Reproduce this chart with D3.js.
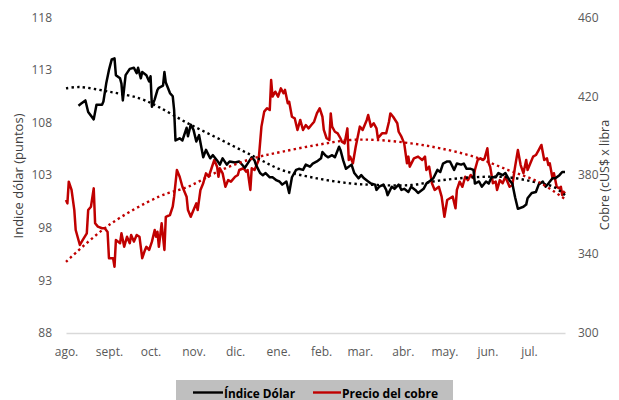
<!DOCTYPE html>
<meta charset="utf-8">
<script src="https://d3js.org/d3.v7.min.js"></script>
<style>
  body { margin: 0; background: #fff; }
  text { font-family: "Open Sans", "Noto Sans", sans-serif; }
</style>
<div id="chart"></div>
<script>

// ---- data ----
const monthLabels = ["ago.", "sept.", "oct.", "nov.", "dic.", "ene.", "feb.", "mar.", "abr.", "may.", "jun.", "jul."];
const leftTicks = [88, 93, 98, 103, 108, 113, 118];
const rightTicks = [300, 340, 380, 420, 460];

const dolarDates = ["2022-08-10","2022-08-12","2022-08-15","2022-08-17","2022-08-21","2022-08-23","2022-08-27","2022-08-28","2022-08-30","2022-09-01",
  "2022-09-03","2022-09-05","2022-09-06","2022-09-09","2022-09-10","2022-09-11","2022-09-13","2022-09-16","2022-09-19","2022-09-21",
  "2022-09-22","2022-09-24","2022-09-25","2022-09-28","2022-09-30","2022-10-01","2022-10-02","2022-10-04","2022-10-06","2022-10-07",
  "2022-10-10","2022-10-11","2022-10-12","2022-10-15","2022-10-17","2022-10-18","2022-10-19","2022-10-22","2022-10-24","2022-10-27",
  "2022-10-28","2022-10-30","2022-11-01","2022-11-03","2022-11-05","2022-11-08","2022-11-10","2022-11-13","2022-11-15","2022-11-18",
  "2022-11-20","2022-11-22","2022-11-25","2022-11-27","2022-12-01","2022-12-04","2022-12-08","2022-12-10","2022-12-13","2022-12-15",
  "2022-12-16","2022-12-19","2022-12-21","2022-12-23","2022-12-26","2022-12-28","2022-12-31","2023-01-02","2023-01-04","2023-01-07",
  "2023-01-09","2023-01-11","2023-01-14","2023-01-16","2023-01-19","2023-01-21","2023-01-24","2023-01-26","2023-01-29","2023-02-01",
  "2023-02-02","2023-02-04","2023-02-06","2023-02-09","2023-02-11","2023-02-14","2023-02-15","2023-02-17","2023-02-19","2023-02-23",
  "2023-02-25","2023-02-28","2023-03-02","2023-03-04","2023-03-07","2023-03-09","2023-03-12","2023-03-13","2023-03-15","2023-03-18",
  "2023-03-20","2023-03-21","2023-03-24","2023-03-26","2023-03-29","2023-03-31","2023-04-02","2023-04-05","2023-04-07","2023-04-10",
  "2023-04-12","2023-04-16","2023-04-18","2023-04-21","2023-04-23","2023-04-26","2023-04-28","2023-04-30","2023-05-03","2023-05-05",
  "2023-05-08","2023-05-10","2023-05-13","2023-05-15","2023-05-17","2023-05-20","2023-05-22","2023-05-23","2023-05-26","2023-05-28",
  "2023-05-31","2023-06-02","2023-06-04","2023-06-07","2023-06-09","2023-06-12","2023-06-14","2023-06-17","2023-06-19","2023-06-21",
  "2023-06-23","2023-06-27","2023-06-29","2023-06-30","2023-07-03","2023-07-06","2023-07-08","2023-07-11","2023-07-13","2023-07-15",
  "2023-07-18","2023-07-20","2023-07-23","2023-07-25","2023-07-27"];
const dolarValues = [109.6,109.8,110.1,109.0,108.3,109.7,109.7,110.0,111.7,113.0,
  114.0,114.1,112.5,112.2,111.7,110.1,112.5,113.1,113.2,112.7,
  113.2,112.2,112.8,112.5,111.9,112.4,109.5,110.2,111.1,111.3,
  111.5,112.8,111.8,110.8,110.5,109.2,106.3,106.5,106.3,107.5,
  106.7,107.8,107.3,106.2,106.8,104.7,105.4,104.6,104.9,104.4,
  104.0,104.6,104.0,104.3,104.2,104.3,103.7,104.1,104.7,104.4,
  104.0,103.2,103.0,103.2,102.8,102.8,102.5,102.4,102.1,102.4,
  101.3,102.8,103.5,103.6,103.5,104.0,103.8,104.1,104.3,104.6,
  105.2,104.9,104.7,104.9,104.7,105.7,105.4,104.4,103.6,104.0,
  103.2,102.7,103.0,102.7,102.4,102.2,102.1,101.6,101.9,102.1,
  101.6,101.1,101.9,101.7,102.1,101.6,101.7,101.4,101.9,101.6,
  101.3,101.7,102.2,102.5,102.7,103.5,103.3,104.1,104.3,104.3,
  103.5,104.1,104.0,104.1,103.6,103.6,103.5,102.2,102.4,101.9,
  102.4,102.2,102.8,102.8,103.2,103.0,103.2,102.5,102.2,100.9,
  99.8,100.0,100.2,100.8,101.3,101.4,102.1,102.4,101.9,102.2,
  102.7,102.7,103.0,103.3,103.3];

const cobreDates = ["2022-08-01","2022-08-02","2022-08-03","2022-08-05","2022-08-07","2022-08-08","2022-08-11","2022-08-13","2022-08-16","2022-08-17",
  "2022-08-19","2022-08-21","2022-08-22","2022-08-24","2022-08-27","2022-08-29","2022-08-31","2022-09-01","2022-09-04","2022-09-05",
  "2022-09-06","2022-09-09","2022-09-10","2022-09-12","2022-09-14","2022-09-16","2022-09-17","2022-09-19","2022-09-21","2022-09-23",
  "2022-09-25","2022-09-27","2022-09-28","2022-09-30","2022-10-02","2022-10-04","2022-10-05","2022-10-06","2022-10-07","2022-10-09",
  "2022-10-11","2022-10-12","2022-10-15","2022-10-17","2022-10-18","2022-10-20","2022-10-22","2022-10-24","2022-10-27","2022-10-28",
  "2022-10-30","2022-11-01","2022-11-03","2022-11-04","2022-11-06","2022-11-08","2022-11-10","2022-11-12","2022-11-14","2022-11-16",
  "2022-11-18","2022-11-19","2022-11-20","2022-11-22","2022-11-24","2022-11-26","2022-11-28","2022-12-01","2022-12-03","2022-12-04",
  "2022-12-07","2022-12-09","2022-12-10","2022-12-12","2022-12-13","2022-12-15","2022-12-18","2022-12-20","2022-12-22","2022-12-24",
  "2022-12-26","2022-12-27","2022-12-28","2022-12-30","2023-01-01","2023-01-03","2023-01-05","2023-01-06","2023-01-08","2023-01-09",
  "2023-01-11","2023-01-13","2023-01-15","2023-01-17","2023-01-19","2023-01-21","2023-01-23","2023-01-25","2023-01-27","2023-01-29",
  "2023-01-31","2023-02-02","2023-02-03","2023-02-05","2023-02-07","2023-02-08","2023-02-09","2023-02-11","2023-02-13","2023-02-15",
  "2023-02-16","2023-02-18","2023-02-20","2023-02-21","2023-02-22","2023-02-24","2023-02-26","2023-02-28","2023-03-01","2023-03-03",
  "2023-03-06","2023-03-07","2023-03-09","2023-03-11","2023-03-13","2023-03-14","2023-03-17","2023-03-20","2023-03-22","2023-03-23",
  "2023-03-25","2023-03-28","2023-03-29","2023-03-31","2023-04-02","2023-04-04","2023-04-05","2023-04-06","2023-04-09","2023-04-12",
  "2023-04-15","2023-04-17","2023-04-18","2023-04-20","2023-04-22","2023-04-24","2023-04-27","2023-04-29","2023-05-01","2023-05-03",
  "2023-05-05","2023-05-07","2023-05-09","2023-05-10","2023-05-12","2023-05-14","2023-05-16","2023-05-18","2023-05-20","2023-05-22",
  "2023-05-23","2023-05-25","2023-05-27","2023-05-29","2023-05-30","2023-06-01","2023-06-02","2023-06-03","2023-06-05","2023-06-07",
  "2023-06-08","2023-06-10","2023-06-12","2023-06-14","2023-06-17","2023-06-19","2023-06-21","2023-06-23","2023-06-25","2023-06-27",
  "2023-06-29","2023-06-30","2023-07-02","2023-07-04","2023-07-06","2023-07-08","2023-07-10","2023-07-12","2023-07-14","2023-07-15",
  "2023-07-16","2023-07-18","2023-07-19","2023-07-21","2023-07-23","2023-07-24","2023-07-25","2023-07-26","2023-07-27"];
const cobreValues = [367.4,365.7,376.7,372.5,362.3,352.2,344.6,347.1,350.5,362.3,
  364.0,373.3,355.6,353.9,353.1,353.1,351.2,337.9,337.9,333.6,
  347.1,345.5,350.5,343.7,348.8,345.5,349.7,346.3,349.7,348.8,
  337.9,342.1,343.7,342.1,346.3,352.2,348.8,351.3,343.7,355.6,
  342.1,358.9,359.8,364.0,369.1,382.6,379.2,374.1,369.1,362.3,
  358.9,362.3,365.7,362.3,372.5,375.9,380.9,379.2,383.5,387.7,
  384.3,379.2,383.5,380.9,374.1,377.5,376.7,379.2,380.1,382.6,
  383.5,381.8,382.6,372.5,383.5,382.6,387.7,404.6,412.2,413.9,
  413.0,428.2,419.8,422.3,419.8,424.0,421.5,423.2,416.4,417.2,
  409.6,408.8,402.9,408.0,402.9,405.4,403.7,405.4,407.1,411.3,
  413.9,409.6,402.9,398.7,397.8,411.3,404.6,402.0,401.2,398.7,
  397.0,396.1,403.7,387.7,389.4,386.0,394.4,401.2,404.6,402.9,
  408.0,410.5,404.6,406.3,403.7,398.7,401.2,401.2,407.1,411.3,
  409.6,406.3,402.0,399.5,396.1,386.0,389.4,384.3,388.5,389.4,
  387.7,389.4,382.6,384.3,375.9,372.5,374.1,369.1,358.9,367.4,
  368.3,369.1,363.2,372.5,376.7,374.1,379.2,377.5,380.1,378.4,
  382.6,387.7,388.5,387.7,388.5,393.6,386.0,384.3,375.9,376.7,
  372.5,377.5,375.9,379.2,374.1,375.0,384.3,392.7,385.1,381.0,
  387.7,382.6,386.0,389.4,390.2,392.7,395.3,387.7,388.5,385.1,
  386.0,378.4,381.0,374.1,373.3,374.1,369.9,371.6,370.8];

// dotted trend lines (as drawn in the picture)
const dolarTrendDates = ["2022-08-01","2022-08-11","2022-09-01","2022-09-23","2022-10-07","2022-10-28","2022-11-21","2022-12-15","2023-01-04","2023-01-29",
  "2023-02-22","2023-03-14","2023-04-07","2023-04-28","2023-05-22","2023-06-16","2023-07-08","2023-07-19","2023-07-27"];
const dolarTrendValues = [111.25,111.37,110.93,110.30,109.47,107.92,106.34,104.75,103.48,102.70,
  102.22,102.06,102.06,102.50,102.80,102.80,102.25,101.87,101.11];
const cobreTrendDates = ["2022-08-01","2022-09-01","2022-10-07","2022-10-28","2022-11-21","2022-12-15","2023-01-04","2023-01-29","2023-02-22","2023-03-14",
  "2023-04-07","2023-04-28","2023-05-22","2023-06-16","2023-07-08","2023-07-27"];
const cobreTrendValues = [336.1,354.7,369.1,374.1,382.6,388.7,391.9,395.3,397.8,397.8,
  396.1,393.6,389.4,382.6,376.5,367.9];

// ---- chart ----
const W = 619, H = 400;
const parse = d3.timeParse("%Y-%m-%d");

const svg = d3.select("#chart").append("svg")
    .attr("width", W)
    .attr("height", H);

const x = d3.scaleTime()
    .domain([parse("2022-08-01"), parse("2023-07-27")])
    .range([66, 565]);

const yL = d3.scaleLinear().domain([88, 118]).range([333, 17.3]);
const yR = d3.scaleLinear().domain([300, 460]).range([333, 17.3]);

// bottom axis: light baseline, month labels at month starts
const monthStarts = monthLabels.map((m, i) => new Date(2022, 7 + i, 1));
const xAxis = svg.append("g")
    .attr("transform", "translate(0,333)")
    .call(d3.axisBottom(x).tickValues(monthStarts).tickSize(0).tickPadding(14)
      .tickFormat((d, i) => monthLabels[i]));
xAxis.select(".domain").attr("stroke", "#d9d9d9").attr("stroke-width", 1.3);
xAxis.selectAll("text").attr("fill", "#595959").style("font-size", "12px");

// left axis
const leftAxis = svg.append("g")
    .attr("transform", "translate(66,0)")
    .call(d3.axisLeft(yL).tickValues(leftTicks).tickSize(0).tickPadding(14));
leftAxis.select(".domain").remove();
leftAxis.selectAll("text").attr("fill", "#595959").style("font-size", "12px");

// right axis
const rightAxis = svg.append("g")
    .attr("transform", "translate(565,0)")
    .call(d3.axisRight(yR).tickValues(rightTicks).tickSize(0).tickPadding(13));
rightAxis.select(".domain").remove();
rightAxis.selectAll("text").attr("fill", "#595959").style("font-size", "12px");

// axis titles
svg.append("text")
    .attr("transform", "translate(23,176) rotate(-90)")
    .attr("text-anchor", "middle")
    .attr("fill", "#404040")
    .style("font-size", "13px")
    .text("Indice dólar (puntos)");

svg.append("text")
    .attr("transform", "translate(609,175) rotate(-90)")
    .attr("text-anchor", "middle")
    .attr("fill", "#404040")
    .style("font-size", "12.5px")
    .text("Cobre (cUS$ x libra");

// lines
const lineL = d3.line().x(d => x(d[0])).y(d => yL(d[1]));
const lineR = d3.line().x(d => x(d[0])).y(d => yR(d[1]));
const smoothL = d3.line().curve(d3.curveCatmullRom).x(d => x(d[0])).y(d => yL(d[1]));
const smoothR = d3.line().curve(d3.curveCatmullRom).x(d => x(d[0])).y(d => yR(d[1]));

const zip = (ds, vs) => ds.map((d, i) => [parse(d), vs[i]]);

svg.append("path")
    .datum(zip(cobreDates, cobreValues))
    .attr("d", lineR)
    .attr("fill", "none")
    .attr("stroke", "#c00000")
    .attr("stroke-width", 2.5)
    .attr("stroke-linejoin", "round");

svg.append("path")
    .datum(zip(dolarDates, dolarValues))
    .attr("d", lineL)
    .attr("fill", "none")
    .attr("stroke", "#000")
    .attr("stroke-width", 2.5)
    .attr("stroke-linejoin", "round");

svg.append("path")
    .datum(zip(dolarTrendDates, dolarTrendValues))
    .attr("d", smoothL)
    .attr("fill", "none")
    .attr("stroke", "#000")
    .attr("stroke-width", 2.4)
    .attr("stroke-dasharray", "2.4 3.2");

svg.append("path")
    .datum(zip(cobreTrendDates, cobreTrendValues))
    .attr("d", smoothR)
    .attr("fill", "none")
    .attr("stroke", "#c00000")
    .attr("stroke-width", 2.4)
    .attr("stroke-dasharray", "2.4 3.2");

// legend
const legend = svg.append("g");
legend.append("rect")
    .attr("x", 176).attr("y", 380)
    .attr("width", 277).attr("height", 24)
    .attr("fill", "#bfbfbf");

const items = [
  {label: "Índice Dólar", color: "#000", x0: 193, x1: 223, tx: 224, tl: 71},
  {label: "Precio del cobre", color: "#c00000", x0: 313, x1: 341, tx: 342, tl: 96}
];
items.forEach(it => {
  legend.append("line")
      .attr("x1", it.x0).attr("x2", it.x1)
      .attr("y1", 392.5).attr("y2", 392.5)
      .attr("stroke", it.color).attr("stroke-width", 2.4);
  legend.append("text")
      .attr("x", it.tx).attr("y", 397.5)
      .attr("textLength", it.tl)
      .attr("lengthAdjust", "spacingAndGlyphs")
      .attr("fill", "#000")
      .style("font-size", "13px")
      .style("font-weight", "bold")
      .text(it.label);
});

</script>
